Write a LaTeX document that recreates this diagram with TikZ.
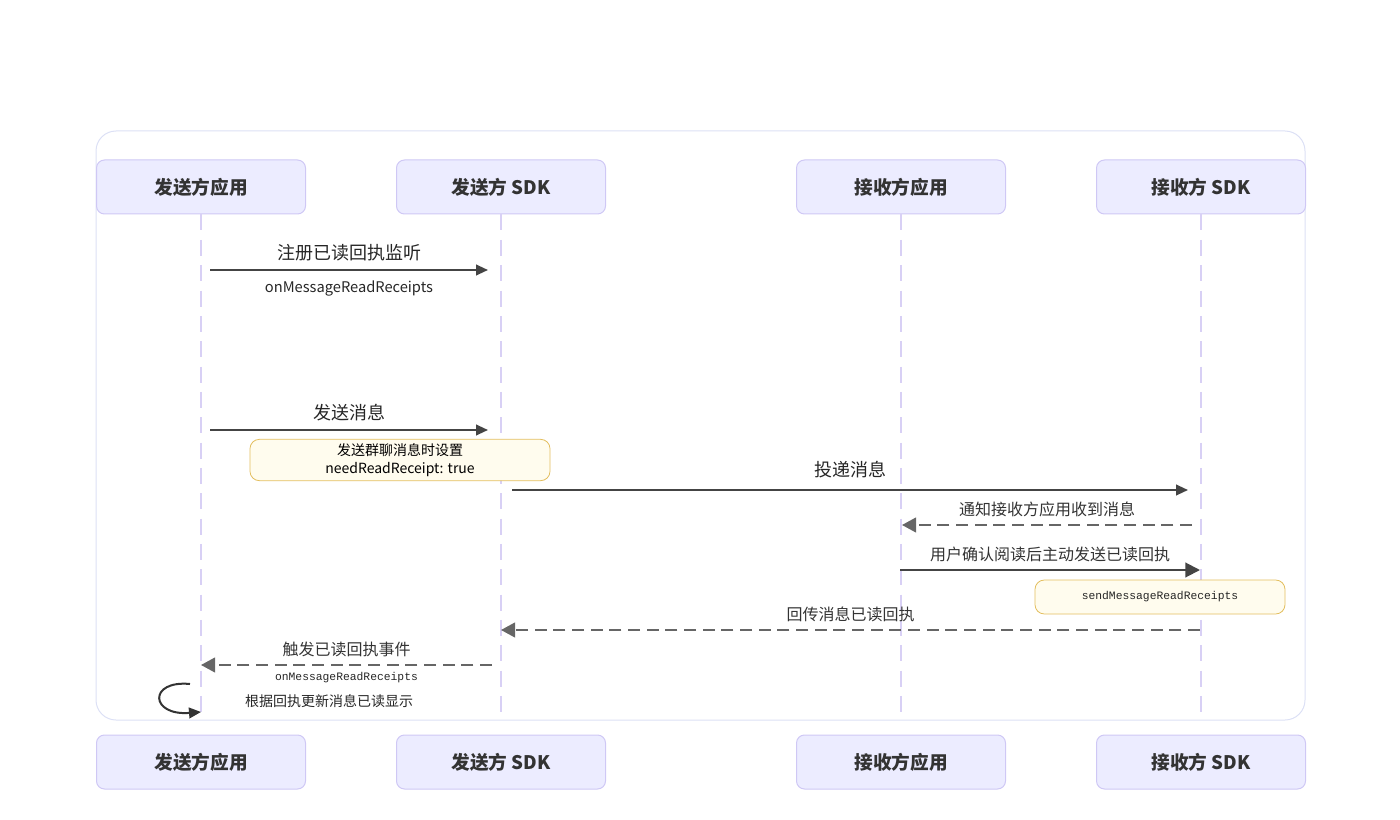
\documentclass[tikz,border=0pt]{standalone}
\usepackage{fontspec}
\setmainfont{Noto Sans CJK SC}
\newfontfamily\codefont{Liberation Mono}
\usetikzlibrary{
    arrows.meta,
    positioning,
    calc
}
\definecolor{actorfill}{HTML}{ECECFF}
\definecolor{actorline}{HTML}{CFC8F5}
\definecolor{lifecol}{HTML}{D8D0F5}
\definecolor{framecol}{HTML}{DCE0F5}
\definecolor{notefill}{HTML}{FFFCEE}
\definecolor{noteline}{HTML}{E3BE5E}
\definecolor{msgcol}{HTML}{444444}
\definecolor{replycol}{HTML}{666666}

\begin{document}
\begin{tikzpicture}[x=0.75pt, y=-0.75pt,
    actor/.style={draw=actorline, fill=actorfill, line width=0.75pt, rounded corners=6pt,
        minimum width=156.75pt, minimum height=40.5pt, text=black!80,
        font=\bfseries\fontsize{14}{16}\selectfont},
    lifeline/.style={draw=lifecol, line width=1.2pt, dash pattern=on 12pt off 7pt, shorten >=15pt},
    msg/.style={draw=msgcol, line width=1.5pt, -{Triangle[length=9pt, width=8pt]}},
    reply/.style={draw=replycol, line width=1.5pt, dash pattern=on 9pt off 5pt,
        -{Triangle[length=10.5pt, width=11pt]}},
    big/.style={font=\fontsize{13.5}{16}\selectfont, text=black!85, inner sep=1pt},
    mid/.style={font=\fontsize{12}{14}\selectfont, text=black!80, inner sep=1pt},
    small/.style={font=\fontsize{10.5}{12}\selectfont, text=black!85, inner sep=1pt},
    code/.style={font=\codefont\fontsize{8.5}{10}\selectfont, text=black!85, inner sep=1pt},
    note/.style={draw=noteline, fill=notefill, line width=0.6pt, rounded corners=7pt, align=center}
]
    \useasboundingbox (0,0) rectangle (1400,820);
    \draw[framecol, line width=0.75pt, rounded corners=15pt] (96,131) rectangle (1305,720);

    \node[actor] (sa) at (201,187) {发送方应用};
    \node[actor] (ss) at (501,187) {发送方 SDK};
    \node[actor] (ra) at (901,187) {接收方应用};
    \node[actor] (rs) at (1201,187) {接收方 SDK};
    \node[actor] (sab) at (201,762) {发送方应用};
    \node[actor] (ssb) at (501,762) {发送方 SDK};
    \node[actor] (rab) at (901,762) {接收方应用};
    \node[actor] (rsb) at (1201,762) {接收方 SDK};

    \foreach \a in {sa,ss,ra,rs}
        \draw[lifeline] (\a) -- (\a b);

    \coordinate (m1a) at (210,270);
    \coordinate (m1b) at (488,270);
    \coordinate (m2a) at (210,430);
    \coordinate (m2b) at (488,430);
    \coordinate (m3a) at (512,490);
    \coordinate (m3b) at (1188,490);
    \coordinate (m4a) at (1192,525);
    \coordinate (m4b) at (902,525);
    \coordinate (m5a) at (900,570);
    \coordinate (m5b) at (1200,570);
    \coordinate (m6a) at (1200,630);
    \coordinate (m6b) at (501,630);
    \coordinate (m7a) at (492,665);
    \coordinate (m7b) at (201,665);
    \coordinate (l1a) at (190,684);
    \coordinate (l1b) at (201,712);

    \draw[msg] (m1a) -- node[above=5pt, big] {注册已读回执监听}
        node[below=6pt, small, font=\fontsize{11}{12}\selectfont] {onMessageReadReceipts} (m1b);
    \draw[msg] (m2a) -- node[above=5pt, big] {发送消息} (m2b);
    \node[note, minimum width=225pt, minimum height=30pt, font=\fontsize{10.5}{13}\selectfont] (n1)
        at (400,460) {发送群聊消息时设置\\needReadReceipt: true};
    \draw[msg] (m3a) -- node[above=7pt, big] {投递消息} (m3b);
    \draw[reply] (m4a) -- node[above=4pt, mid] {通知接收方应用收到消息} (m4b);
    \draw[msg, -{Triangle[length=11pt, width=11pt]}] (m5a) -- node[above=4pt, mid] {用户确认阅读后主动发送已读回执} (m5b);
    \node[note, minimum width=187.5pt, minimum height=25.5pt, code] (n2)
        at (1160,597) {sendMessageReadReceipts};
    \draw[reply] (m6a) -- node[above=4pt, mid] {回传消息已读回执} (m6b);
    \draw[reply] (m7a) -- node[above=4pt, mid] {触发已读回执事件}
        node[below=4pt, code] {onMessageReadReceipts} (m7b);
    \draw[msg, draw=black!80] (l1a) .. controls (148,680) and (150,716) .. (l1b);
    \node[small] (selfnote) at (329,701) {根据回执更新消息已读显示};
\end{tikzpicture}
\end{document}
